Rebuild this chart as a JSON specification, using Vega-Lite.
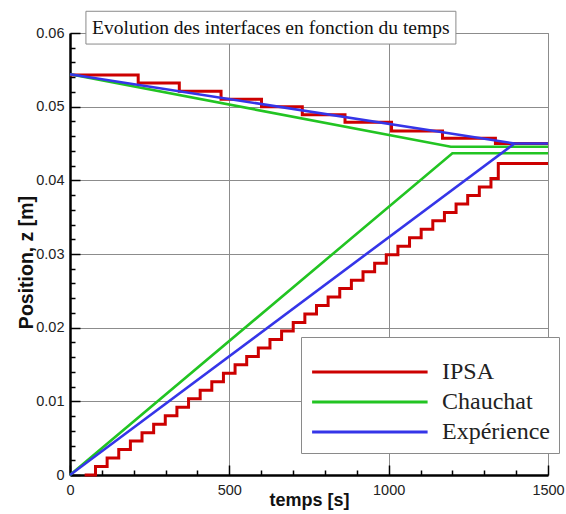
{
  "$schema": "https://vega.github.io/schema/vega-lite/v6.json",
  "width": 478,
  "height": 442,
  "autosize": {"type": "none"},
  "padding": {"left": 70, "top": 33, "right": 18, "bottom": 39},
  "background": "white",
  "config": {
    "view": {"stroke": "#8a8a8a", "strokeWidth": 1},
    "axis": {
      "grid": true,
      "gridColor": "#8c8c8c",
      "gridWidth": 1,
      "domainColor": "#000000",
      "domainWidth": 2.5,
      "tickColor": "#000000",
      "tickWidth": 1.5,
      "labelFont": "Liberation Sans",
      "labelFontSize": 14.5,
      "labelColor": "#222222",
      "labelFlush": false,
      "labelOverlap": false,
      "labelBound": false,
      "titleFont": "Liberation Sans",
      "titleFontWeight": "bold",
      "titleColor": "#111111",
      "titleAlign": "center"
    }
  },
  "datasets": {
    "courbes": [
      {"serie": "IPSA", "branche": "haut", "t": 0, "z": 0.0543},
      {"serie": "IPSA", "branche": "haut", "t": 214, "z": 0.0532},
      {"serie": "IPSA", "branche": "haut", "t": 343, "z": 0.0521},
      {"serie": "IPSA", "branche": "haut", "t": 474, "z": 0.0510},
      {"serie": "IPSA", "branche": "haut", "t": 601, "z": 0.0500},
      {"serie": "IPSA", "branche": "haut", "t": 729, "z": 0.0489},
      {"serie": "IPSA", "branche": "haut", "t": 863, "z": 0.0479},
      {"serie": "IPSA", "branche": "haut", "t": 1009, "z": 0.0467},
      {"serie": "IPSA", "branche": "haut", "t": 1169, "z": 0.0457},
      {"serie": "IPSA", "branche": "haut", "t": 1335, "z": 0.0450},
      {"serie": "IPSA", "branche": "haut", "t": 1500, "z": 0.0450},
      {"serie": "IPSA", "branche": "bas", "t": 46, "z": 0.0},
      {"serie": "IPSA", "branche": "bas", "t": 80, "z": 0.00115},
      {"serie": "IPSA", "branche": "bas", "t": 116.5, "z": 0.0023},
      {"serie": "IPSA", "branche": "bas", "t": 153, "z": 0.00345},
      {"serie": "IPSA", "branche": "bas", "t": 189.5, "z": 0.0046},
      {"serie": "IPSA", "branche": "bas", "t": 226, "z": 0.00575},
      {"serie": "IPSA", "branche": "bas", "t": 262.5, "z": 0.0069},
      {"serie": "IPSA", "branche": "bas", "t": 299, "z": 0.00805},
      {"serie": "IPSA", "branche": "bas", "t": 335.5, "z": 0.0092},
      {"serie": "IPSA", "branche": "bas", "t": 372, "z": 0.01035},
      {"serie": "IPSA", "branche": "bas", "t": 408.5, "z": 0.0115},
      {"serie": "IPSA", "branche": "bas", "t": 445, "z": 0.01265},
      {"serie": "IPSA", "branche": "bas", "t": 481.5, "z": 0.0138},
      {"serie": "IPSA", "branche": "bas", "t": 518, "z": 0.01495},
      {"serie": "IPSA", "branche": "bas", "t": 554.5, "z": 0.0161},
      {"serie": "IPSA", "branche": "bas", "t": 591, "z": 0.01725},
      {"serie": "IPSA", "branche": "bas", "t": 627.5, "z": 0.0184},
      {"serie": "IPSA", "branche": "bas", "t": 664, "z": 0.01955},
      {"serie": "IPSA", "branche": "bas", "t": 700.5, "z": 0.0207},
      {"serie": "IPSA", "branche": "bas", "t": 737, "z": 0.02185},
      {"serie": "IPSA", "branche": "bas", "t": 773.5, "z": 0.023},
      {"serie": "IPSA", "branche": "bas", "t": 810, "z": 0.02415},
      {"serie": "IPSA", "branche": "bas", "t": 846.5, "z": 0.0253},
      {"serie": "IPSA", "branche": "bas", "t": 883, "z": 0.02645},
      {"serie": "IPSA", "branche": "bas", "t": 919.5, "z": 0.0276},
      {"serie": "IPSA", "branche": "bas", "t": 956, "z": 0.02875},
      {"serie": "IPSA", "branche": "bas", "t": 992.5, "z": 0.0299},
      {"serie": "IPSA", "branche": "bas", "t": 1029, "z": 0.03105},
      {"serie": "IPSA", "branche": "bas", "t": 1065.5, "z": 0.0322},
      {"serie": "IPSA", "branche": "bas", "t": 1102, "z": 0.03335},
      {"serie": "IPSA", "branche": "bas", "t": 1138.5, "z": 0.0345},
      {"serie": "IPSA", "branche": "bas", "t": 1175, "z": 0.03565},
      {"serie": "IPSA", "branche": "bas", "t": 1211.5, "z": 0.0368},
      {"serie": "IPSA", "branche": "bas", "t": 1248, "z": 0.03795},
      {"serie": "IPSA", "branche": "bas", "t": 1284.5, "z": 0.0391},
      {"serie": "IPSA", "branche": "bas", "t": 1321, "z": 0.04025},
      {"serie": "IPSA", "branche": "bas", "t": 1344, "z": 0.0423},
      {"serie": "IPSA", "branche": "bas", "t": 1500, "z": 0.0423},
      {"serie": "Chauchat", "branche": "haut", "t": 0, "z": 0.0544},
      {"serie": "Chauchat", "branche": "haut", "t": 1195, "z": 0.04455},
      {"serie": "Chauchat", "branche": "haut", "t": 1500, "z": 0.04455},
      {"serie": "Chauchat", "branche": "bas", "t": 0, "z": 0.0},
      {"serie": "Chauchat", "branche": "bas", "t": 1200, "z": 0.04367},
      {"serie": "Chauchat", "branche": "bas", "t": 1500, "z": 0.04367},
      {"serie": "Expérience", "branche": "haut", "t": 0, "z": 0.0544},
      {"serie": "Expérience", "branche": "haut", "t": 1395, "z": 0.0450},
      {"serie": "Expérience", "branche": "haut", "t": 1500, "z": 0.0450},
      {"serie": "Expérience", "branche": "bas", "t": 0, "z": 0.0},
      {"serie": "Expérience", "branche": "bas", "t": 1395, "z": 0.0450}
    ],
    "cadre": [
      {"t": 50, "t2": 1211, "z": 0.0585, "z2": 0.06295}
    ],
    "titre": [
      {"texte": "Evolution des interfaces en fonction du temps", "t": 630, "z": 0.06062}
    ]
  },
  "layer": [
    {
      "data": {"name": "courbes"},
      "encoding": {
        "x": {
          "field": "t",
          "type": "quantitative",
          "scale": {"domain": [0, 1500], "nice": false, "zero": false},
          "axis": {
            "title": "temps [s]",
            "values": [0, 100, 200, 300, 400, 500, 600, 700, 800, 900, 1000, 1100, 1200, 1300, 1400, 1500],
            "format": "d",
            "labelExpr": "datum.value % 500 === 0 ? datum.label : ''",
            "tickSize": {"condition": {"test": "datum.value % 500 === 0", "value": -10}, "value": -5},
            "gridOpacity": {"condition": {"test": "datum.value % 500 === 0", "value": 1}, "value": 0},
            "labelPadding": 18,
            "titleFontSize": 18,
            "titleX": 239,
            "titleY": 30,
            "titleBaseline": "alphabetic"
          }
        },
        "y": {
          "field": "z",
          "type": "quantitative",
          "scale": {"domain": [0, 0.06], "nice": false},
          "axis": {
            "title": "Position, z [m]",
            "values": [0, 0.002, 0.004, 0.006, 0.008, 0.01, 0.012, 0.014, 0.016, 0.018, 0.02, 0.022, 0.024, 0.026, 0.028, 0.03, 0.032, 0.034, 0.036, 0.038, 0.04, 0.042, 0.044, 0.046, 0.048, 0.05, 0.052, 0.054, 0.056, 0.058, 0.06],
            "labelExpr": "round(datum.value * 1000) % 10 === 0 ? format(datum.value, '.2~f') : ''",
            "tickSize": {"condition": {"test": "round(datum.value * 1000) % 10 === 0", "value": -10}, "value": -5},
            "gridOpacity": {"condition": {"test": "round(datum.value * 1000) % 10 === 0", "value": 1}, "value": 0},
            "labelPadding": 16,
            "titleFontSize": 19.5,
            "titleX": -44,
            "titleY": 229,
            "titleAngle": -90,
            "titleBaseline": "middle"
          }
        },
        "color": {
          "field": "serie",
          "type": "nominal",
          "scale": {"domain": ["IPSA", "Chauchat", "Expérience"], "range": ["#cc0000", "#22c422", "#3535e8"]},
          "legend": {
            "title": " ",
            "titleFontSize": 2,
            "titlePadding": 12,
            "orient": "none",
            "legendX": 231,
            "legendY": 304,
            "symbolType": "M-1.8,0H19.2",
            "symbolSize": 121,
            "symbolStrokeWidth": 3,
            "symbolFillColor": "transparent",
            "labelFont": "Liberation Serif",
            "labelFontSize": 24,
            "labelColor": "#222222",
            "labelOffset": 108,
            "labelLimit": 0,
            "padding": 9,
            "rowPadding": 6,
            "strokeColor": "#8a8a8a",
            "fillColor": "white",
            "cornerRadius": 0
          }
        },
        "detail": {"field": "branche", "type": "nominal"}
      },
      "layer": [
        {
          "transform": [{"filter": "datum.serie === 'IPSA'"}],
          "mark": {"type": "line", "interpolate": "step-after", "strokeWidth": 3, "strokeJoin": "miter", "strokeCap": "butt"}
        },
        {
          "transform": [{"filter": "datum.serie === 'Chauchat'"}],
          "mark": {"type": "line", "strokeWidth": 2.6}
        },
        {
          "transform": [{"filter": "datum.serie === 'Expérience'"}],
          "mark": {"type": "line", "strokeWidth": 2.6}
        }
      ]
    },
    {
      "data": {"name": "cadre"},
      "mark": {"type": "rect", "fill": "white", "stroke": "#8a8a8a", "strokeWidth": 1},
      "encoding": {
        "x": {
          "field": "t",
          "type": "quantitative",
          "scale": {"domain": [0, 1500], "nice": false, "zero": false},
          "axis": {
            "title": "temps [s]",
            "values": [0, 100, 200, 300, 400, 500, 600, 700, 800, 900, 1000, 1100, 1200, 1300, 1400, 1500],
            "format": "d",
            "labelExpr": "datum.value % 500 === 0 ? datum.label : ''",
            "tickSize": {"condition": {"test": "datum.value % 500 === 0", "value": -10}, "value": -5},
            "gridOpacity": {"condition": {"test": "datum.value % 500 === 0", "value": 1}, "value": 0},
            "labelPadding": 18,
            "titleFontSize": 18,
            "titleX": 239,
            "titleY": 30,
            "titleBaseline": "alphabetic"
          }
        },
        "x2": {"field": "t2"},
        "y": {
          "field": "z",
          "type": "quantitative",
          "scale": {"domain": [0, 0.06], "nice": false},
          "axis": {
            "title": "Position, z [m]",
            "values": [0, 0.002, 0.004, 0.006, 0.008, 0.01, 0.012, 0.014, 0.016, 0.018, 0.02, 0.022, 0.024, 0.026, 0.028, 0.03, 0.032, 0.034, 0.036, 0.038, 0.04, 0.042, 0.044, 0.046, 0.048, 0.05, 0.052, 0.054, 0.056, 0.058, 0.06],
            "labelExpr": "round(datum.value * 1000) % 10 === 0 ? format(datum.value, '.2~f') : ''",
            "tickSize": {"condition": {"test": "round(datum.value * 1000) % 10 === 0", "value": -10}, "value": -5},
            "gridOpacity": {"condition": {"test": "round(datum.value * 1000) % 10 === 0", "value": 1}, "value": 0},
            "labelPadding": 16,
            "titleFontSize": 19.5,
            "titleX": -44,
            "titleY": 229,
            "titleAngle": -90,
            "titleBaseline": "middle"
          }
        },
        "y2": {"field": "z2"}
      }
    },
    {
      "data": {"name": "titre"},
      "mark": {"type": "text", "font": "Liberation Serif", "fontSize": 19.5, "color": "#111111", "align": "center", "baseline": "middle"},
      "encoding": {
        "x": {
          "field": "t",
          "type": "quantitative",
          "scale": {"domain": [0, 1500], "nice": false, "zero": false},
          "axis": {
            "title": "temps [s]",
            "values": [0, 100, 200, 300, 400, 500, 600, 700, 800, 900, 1000, 1100, 1200, 1300, 1400, 1500],
            "format": "d",
            "labelExpr": "datum.value % 500 === 0 ? datum.label : ''",
            "tickSize": {"condition": {"test": "datum.value % 500 === 0", "value": -10}, "value": -5},
            "gridOpacity": {"condition": {"test": "datum.value % 500 === 0", "value": 1}, "value": 0},
            "labelPadding": 18,
            "titleFontSize": 18,
            "titleX": 239,
            "titleY": 30,
            "titleBaseline": "alphabetic"
          }
        },
        "y": {
          "field": "z",
          "type": "quantitative",
          "scale": {"domain": [0, 0.06], "nice": false},
          "axis": {
            "title": "Position, z [m]",
            "values": [0, 0.002, 0.004, 0.006, 0.008, 0.01, 0.012, 0.014, 0.016, 0.018, 0.02, 0.022, 0.024, 0.026, 0.028, 0.03, 0.032, 0.034, 0.036, 0.038, 0.04, 0.042, 0.044, 0.046, 0.048, 0.05, 0.052, 0.054, 0.056, 0.058, 0.06],
            "labelExpr": "round(datum.value * 1000) % 10 === 0 ? format(datum.value, '.2~f') : ''",
            "tickSize": {"condition": {"test": "round(datum.value * 1000) % 10 === 0", "value": -10}, "value": -5},
            "gridOpacity": {"condition": {"test": "round(datum.value * 1000) % 10 === 0", "value": 1}, "value": 0},
            "labelPadding": 16,
            "titleFontSize": 19.5,
            "titleX": -44,
            "titleY": 229,
            "titleAngle": -90,
            "titleBaseline": "middle"
          }
        },
        "text": {"field": "texte"}
      }
    }
  ]
}
